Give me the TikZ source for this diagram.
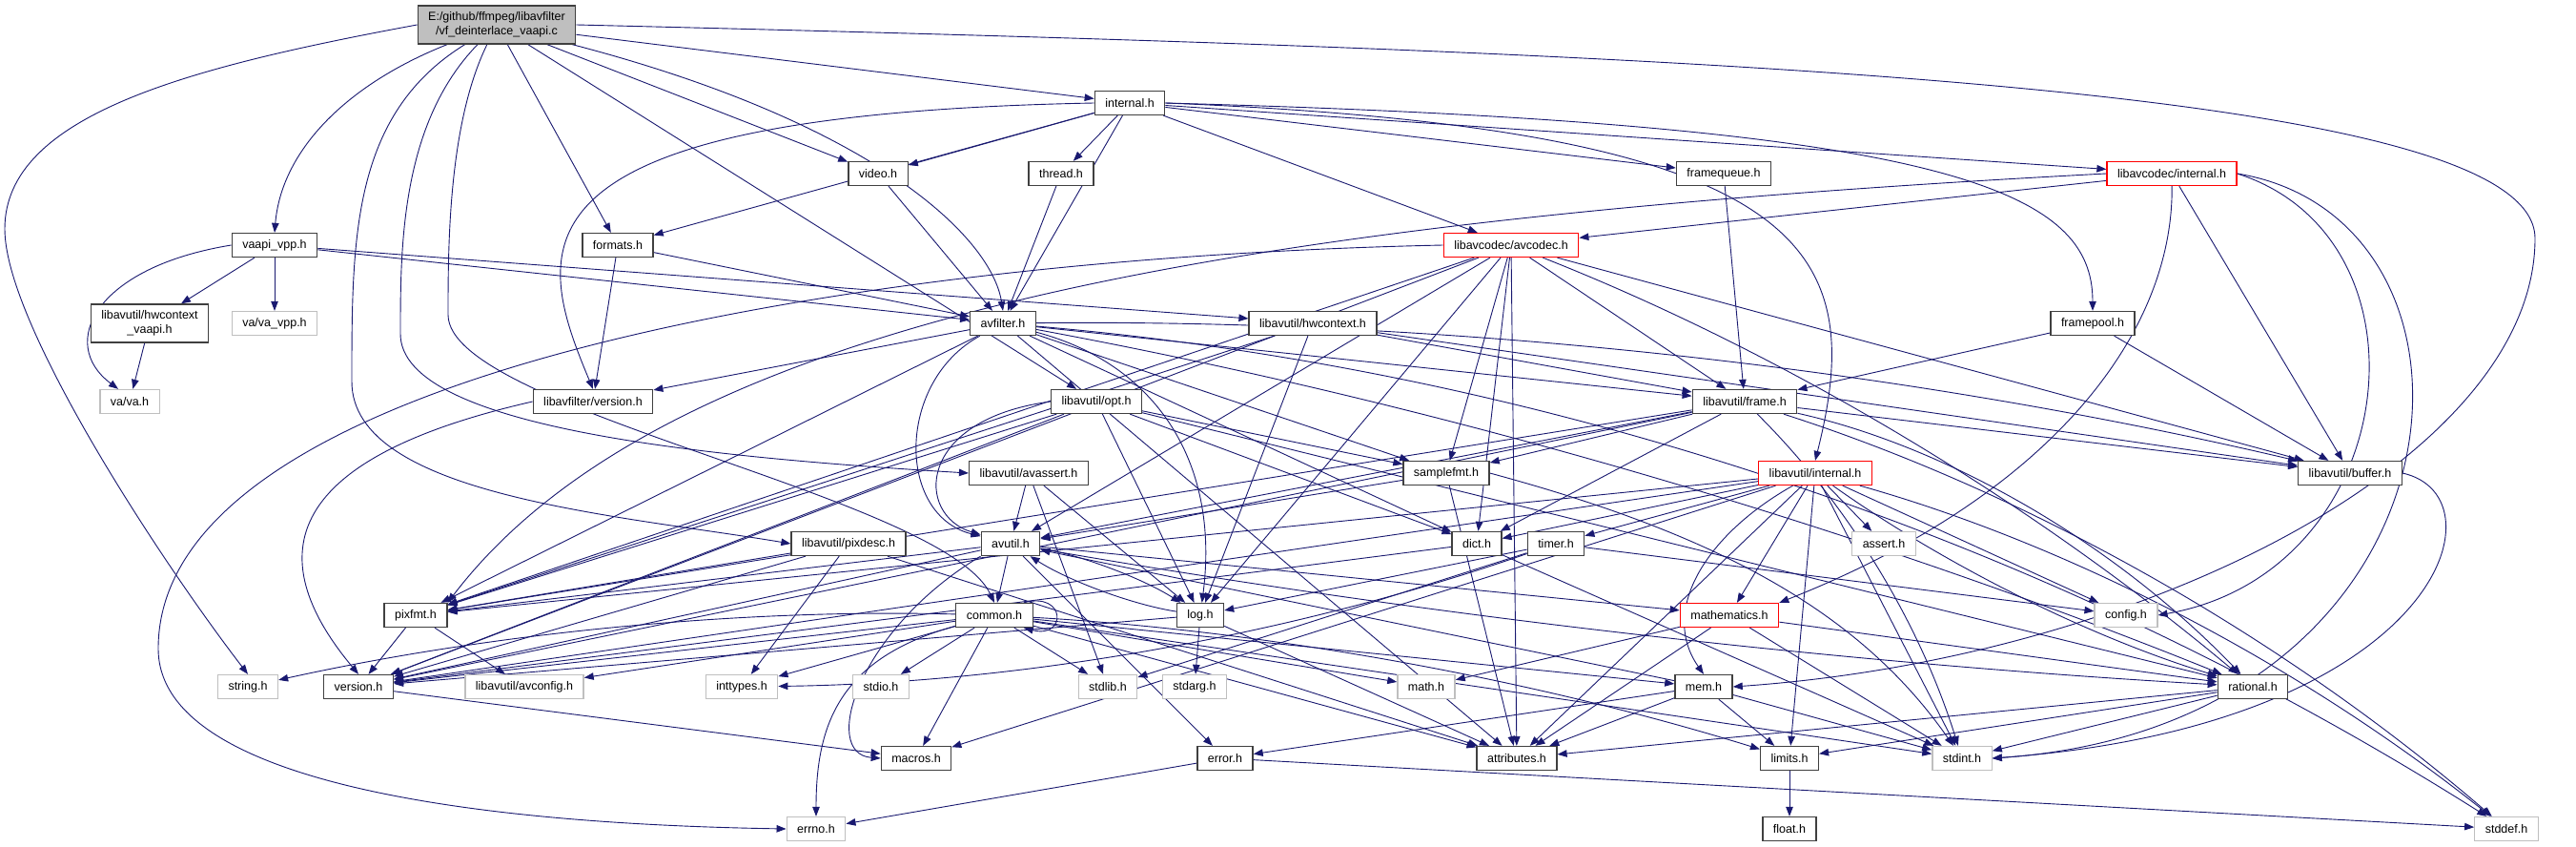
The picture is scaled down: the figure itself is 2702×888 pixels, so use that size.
\documentclass[tikz,border=0pt]{standalone}
\usepackage{fontspec}
\setmainfont{Liberation Sans}
\usetikzlibrary{arrows.meta}
\definecolor{blunotte}{HTML}{191970}
\definecolor{grigiochiaro}{HTML}{BFBFBF}
\definecolor{grigioscuro}{HTML}{404040}
\pgfdeclarelayer{sfondo}
\pgfsetlayers{sfondo,main}

\begin{document}
\begin{tikzpicture}[
  x=1pt, y=1pt,
  font=\fontsize{12.5}{15}\selectfont,
  nodo/.style={draw=grigioscuro, line width=1.3pt, fill=white, inner xsep=11pt, inner ysep=0pt, minimum height=25pt},
  esterno/.style={nodo, draw=grigiochiaro},
  rosso/.style={nodo, draw=red},
  radice/.style={nodo, fill=grigiochiaro, align=center, minimum height=40pt},
  dip/.style={draw=blunotte, line width=0.9pt, -{Triangle[length=10pt,width=7.5pt]}}
]

%--------------------------------------------------------------
% File di partenza
%--------------------------------------------------------------
\node[radice] (main) at (521,-26) {E:/github/ffmpeg/libavfilter\\/vf\_deinterlace\_vaapi.c};

%--------------------------------------------------------------
% Intestazioni, riga per riga dall'alto
%--------------------------------------------------------------
\node[nodo] (internal) at (1185,-108) {internal.h};
\node[nodo] (video) at (921,-182) {video.h};
\node[nodo] (thread) at (1113,-182) {thread.h};
\node[nodo] (framequeue) at (1808,-182) {framequeue.h};
\node[rosso] (lavcinternal) at (2278,-182) {libavcodec/internal.h};
\node[nodo] (vaapivpp) at (288,-257) {vaapi\_vpp.h};
\node[nodo] (formats) at (648,-257) {formats.h};
\node[rosso] (avcodec) at (1585,-257) {libavcodec/avcodec.h};
\node[nodo, align=center, minimum height=40pt] (hwvaapi) at (157,-339) {libavutil/hwcontext\\\_vaapi.h};
\node[esterno] (vavpp) at (288,-339) {va/va\_vpp.h};
\node[nodo] (avfilter) at (1052,-339) {avfilter.h};
\node[nodo] (hwcontext) at (1377,-339) {libavutil/hwcontext.h};
\node[nodo] (framepool) at (2195,-339) {framepool.h};
\node[esterno] (vah) at (136,-421) {va/va.h};
\node[nodo] (lavfiversion) at (622,-421) {libavfilter/version.h};
\node[nodo] (opt) at (1150,-421) {libavutil/opt.h};
\node[nodo] (frame) at (1830,-421) {libavutil/frame.h};
\node[nodo] (avassert) at (1079,-496) {libavutil/avassert.h};
\node[nodo] (samplefmt) at (1517,-496) {samplefmt.h};
\node[rosso] (lavuinternal) at (1904,-496) {libavutil/internal.h};
\node[nodo] (buffer) at (2465,-496) {libavutil/buffer.h};
\node[nodo] (pixdesc) at (890,-570) {libavutil/pixdesc.h};
\node[nodo] (avutil) at (1060,-570) {avutil.h};
\node[nodo] (dict) at (1549,-570) {dict.h};
\node[nodo] (timer) at (1632,-570) {timer.h};
\node[esterno] (asserth) at (1976,-570) {assert.h};
\node[nodo] (pixfmt) at (436,-645) {pixfmt.h};
\node[nodo] (common) at (1043,-645) {common.h};
\node[nodo] (log) at (1259,-645) {log.h};
\node[rosso] (mathematics) at (1814,-645) {mathematics.h};
\node[esterno] (config) at (2230,-645) {config.h};
\node[esterno] (stringh) at (260,-720) {string.h};
\node[nodo] (version) at (376,-720) {version.h};
\node[esterno] (avconfig) at (550,-720) {libavutil/avconfig.h};
\node[esterno] (inttypes) at (778,-720) {inttypes.h};
\node[esterno] (stdio) at (924,-720) {stdio.h};
\node[esterno] (stdlib) at (1162,-720) {stdlib.h};
\node[esterno] (stdarg) at (1253,-720) {stdarg.h};
\node[esterno] (math) at (1496,-720) {math.h};
\node[nodo] (mem) at (1787,-720) {mem.h};
\node[nodo] (rational) at (2363,-720) {rational.h};
\node[nodo] (macros) at (961,-795) {macros.h};
\node[nodo] (error) at (1285,-795) {error.h};
\node[nodo] (attributes) at (1591,-795) {attributes.h};
\node[nodo] (limits) at (1877,-795) {limits.h};
\node[esterno] (stdint) at (2058,-795) {stdint.h};
\node[esterno] (errno) at (856,-869) {errno.h};
\node[nodo] (float) at (1877,-869) {float.h};
\node[esterno] (stddef) at (2629,-869) {stddef.h};

\begin{pgfonlayer}{sfondo}
\fill[white] (0,0) rectangle (2702,-888);

%--------------------------------------------------------------
% vf_deinterlace_vaapi.c
%--------------------------------------------------------------
\draw[dip] (main.west) .. controls (200,-70) and (5,-120) .. (5,-240)
  .. controls (5,-340) and (170,-590) .. (stringh.north);
\draw[dip] (main) .. controls (360,-90) and (295,-160) .. (vaapivpp.north);
\draw[dip] (main) .. controls (369,-120) and (369,-250) .. (369,-400)
  .. controls (369,-520) and (650,-540) .. (pixdesc.west);
\draw[dip] (main) .. controls (420,-130) and (420,-260) .. (420,-350)
  .. controls (420,-450) and (750,-480) .. (avassert.west);
\draw[dip] (main) .. controls (470,-130) and (470,-260) .. (470,-330)
  .. controls (470,-430) and (990,-520) .. (common.north);
\draw[dip] (main) -- (formats);
\draw[dip] (main) -- (video);
\draw[dip] (main) -- (internal);
\draw[dip] (main) .. controls (920,-130) and (1040,-250) .. (avfilter.north);
\draw[dip] (main) -- (opt);
\draw[dip] (main.east) .. controls (1800,-55) and (2659,-90) .. (2659,-250)
  .. controls (2659,-480) and (2250,-690) .. (mem.east);

%--------------------------------------------------------------
% internal.h e intestazioni di libavfilter
%--------------------------------------------------------------
\draw[dip] (internal) -- (video);
\draw[dip] (internal) -- (thread);
\draw[dip] (internal) -- (framequeue);
\draw[dip] (internal) -- (lavcinternal);
\draw[dip] (internal) -- (avcodec);
\draw[dip] (internal) -- (formats);
\draw[dip] (internal) -- (avfilter);
\draw[dip] (internal.west) .. controls (520,-120) and (560,-260) .. (lavfiversion.north);
\draw[dip] (internal.east) .. controls (1900,-135) and (1960,-260) .. (lavuinternal.north);
\draw[dip] (internal.east) .. controls (2050,-130) and (2195,-200) .. (framepool.north);
\draw[dip] (video) -- (avfilter);
\draw[dip] (thread) -- (avfilter);
\draw[dip] (framequeue) -- (frame);
\draw[dip] (framepool) -- (frame);
\draw[dip] (framepool) -- (buffer);
\draw[dip] (formats) -- (avfilter);
\draw[dip] (formats) -- (lavfiversion);
\draw[dip] (lavfiversion.west) .. controls (300,-480) and (270,-580) .. (version.north);

%--------------------------------------------------------------
% vaapi_vpp.h
%--------------------------------------------------------------
\draw[dip] (vaapivpp.west) .. controls (100,-280) and (60,-360) .. ([xshift=-12pt]vah.north);
\draw[dip] (vaapivpp) -- (hwvaapi);
\draw[dip] (vaapivpp) -- (vavpp);
\draw[dip] (vaapivpp) -- (avfilter);
\draw[dip] (vaapivpp) -- (hwcontext);
\draw[dip] (hwvaapi) -- (vah);

%--------------------------------------------------------------
% libavcodec
%--------------------------------------------------------------
\draw[dip] (avcodec.west) .. controls (900,-270) and (166,-390) .. (166,-680)
  .. controls (166,-850) and (650,-866) .. (errno.west);
\draw[dip] (avcodec) -- (pixfmt);
\draw[dip] (avcodec) -- (version);
\draw[dip] (avcodec) -- (avutil);
\draw[dip] (avcodec) -- (samplefmt);
\draw[dip] (avcodec) -- (dict);
\draw[dip] (avcodec) -- (log);
\draw[dip] (avcodec) -- (attributes);
\draw[dip] (avcodec) -- (frame);
\draw[dip] (avcodec) -- (buffer);
\draw[dip] (avcodec) .. controls (1869,-369) and (2129,-524) .. (rational);
\draw[dip] (lavcinternal) -- (avcodec);
\draw[dip] (lavcinternal) -- (buffer);
\draw[dip] (lavcinternal.west) .. controls (1300,-230) and (700,-330) .. (pixfmt.north east);
\draw[dip] (lavcinternal) .. controls (2280,-350) and (2150,-520) .. (mathematics.north east);
\draw[dip] (lavcinternal.east) .. controls (2560,-250) and (2520,-600) .. (config.east);
\draw[dip] (lavcinternal.east) .. controls (2640,-230) and (2600,-760) .. (stdint.east);

%--------------------------------------------------------------
% avfilter.h
%--------------------------------------------------------------
\draw[dip] (avfilter) -- (pixfmt);
\draw[dip] (avfilter) .. controls (940,-400) and (940,-540) .. (avutil);
\draw[dip] (avfilter) -- (lavfiversion);
\draw[dip] (avfilter) -- (samplefmt);
\draw[dip] (avfilter) -- (dict);
\draw[dip] (avfilter) -- (frame);
\draw[dip] (avfilter) .. controls (1529,-334) and (2000,-387) .. (buffer);
\draw[dip] (avfilter) .. controls (1211,-381) and (1280,-483) .. (log);
\draw[dip] (avfilter) -- (attributes);
\draw[dip] (avfilter) .. controls (1502,-422) and (1939,-549) .. (rational);
\draw[dip] (avfilter) .. controls (1621,-388) and (2146,-564) .. (stddef);

%--------------------------------------------------------------
% libavutil: hwcontext, opt, frame, avassert, samplefmt
%--------------------------------------------------------------
\draw[dip] (hwcontext) -- (buffer);
\draw[dip] (hwcontext) -- (frame);
\draw[dip] (hwcontext) -- (log);
\draw[dip] (hwcontext) -- (pixfmt);
\draw[dip] (opt) -- (pixfmt);
\draw[dip] (opt.west) .. controls (960,-440) and (960,-540) .. (avutil);
\draw[dip] (opt) -- (samplefmt);
\draw[dip] (opt) -- (dict);
\draw[dip] (opt) -- (log);
\draw[dip] (opt) -- (rational);
\draw[dip] (opt) -- (version);
\draw[dip] (frame) -- (avutil);
\draw[dip] (frame) -- (pixfmt);
\draw[dip] (frame) -- (version);
\draw[dip] (frame) -- (samplefmt);
\draw[dip] (frame) -- (dict);
\draw[dip] (frame) -- (buffer);
\draw[dip] (frame) .. controls (2038,-467) and (2215,-566) .. (rational);
\draw[dip] (frame) .. controls (1937,-527) and (2013,-651) .. (stdint);
\draw[dip] (frame) .. controls (2126,-516) and (2393,-666) .. (stddef);
\draw[dip] (avassert) -- (avutil);
\draw[dip] (avassert) -- (log);
\draw[dip] (avassert) -- (stdlib);
\draw[dip] (samplefmt) -- (avutil);
\draw[dip] (samplefmt) -- (attributes);
\draw[dip] (samplefmt.east) .. controls (1800,-560) and (1950,-640) .. (stdint);

%--------------------------------------------------------------
% libavutil/internal.h
%--------------------------------------------------------------
\draw[dip] (lavuinternal) -- (pixfmt);
\draw[dip] (lavuinternal) -- (version);
\draw[dip] (lavuinternal) -- (dict);
\draw[dip] (lavuinternal) -- (timer);
\draw[dip] (lavuinternal) -- (macros);
\draw[dip] (lavuinternal) -- (attributes);
\draw[dip] (lavuinternal) -- (mathematics);
\draw[dip] (lavuinternal) .. controls (1790,-560) and (1740,-640) .. (mem.north);
\draw[dip] (lavuinternal) -- (limits);
\draw[dip] (lavuinternal) -- (asserth);
\draw[dip] (lavuinternal) -- (config);
\draw[dip] (lavuinternal) -- (stdint);
\draw[dip] (lavuinternal) .. controls (2045,-596) and (2198,-670) .. (rational);
\draw[dip] (lavuinternal) .. controls (2171,-571) and (2412,-696) .. (stddef);

%--------------------------------------------------------------
% avutil.h, dict.h, timer.h, pixdesc.h, pixfmt.h
%--------------------------------------------------------------
\draw[dip] (avutil) -- (common);
\draw[dip] (avutil) -- (pixfmt);
\draw[dip] (avutil) -- (version);
\draw[dip] (avutil.south west) .. controls (900,-660) and (860,-790) .. (macros.west);
\draw[dip] (avutil) -- (error);
\draw[dip] (avutil) .. controls (1131,-581) and (1198,-606) .. (log);
\draw[dip] (avutil) -- (mathematics);
\draw[dip] (avutil) .. controls (1491,-645) and (1926,-695) .. (rational);
\draw[dip] (dict) -- (version);
\draw[dip] (dict) -- (stdint);
\draw[dip] (timer) -- (log);
\draw[dip] (timer) -- (stdlib);
\draw[dip] (timer) .. controls (1355,-666) and (1071,-716) .. (inttypes);
\draw[dip] (timer) -- (config);
\draw[dip] (pixdesc) -- (pixfmt);
\draw[dip] (pixdesc) -- (version);
\draw[dip] (pixdesc) -- (inttypes);
\draw[dip] (pixdesc) -- (attributes);
\draw[dip] (pixfmt) -- (version);
\draw[dip] (pixfmt) -- (avconfig);

%--------------------------------------------------------------
% common.h (con il proprio anello)
%--------------------------------------------------------------
\draw[dip] (common) .. controls (779,-638) and (518,-663) .. (stringh);
\draw[dip] (common) -- (version);
\draw[dip] (common) -- (avconfig);
\draw[dip] (common) -- (inttypes);
\draw[dip] (common) -- (stdio);
\draw[dip] (common) -- (stdlib);
\draw[dip] (common) -- (macros);
\draw[dip] (common) .. controls (880,-690) and (856,-760) .. (errno);
\draw[dip] (common) -- (math);
\draw[dip] (common) -- (mem);
\draw[dip] (common) -- (attributes);
\draw[dip] (common) .. controls (1327,-661) and (1605,-711) .. (limits);
\draw[dip] (common) -- (stdint);
\draw[dip] ([xshift=-10pt]common.north east) .. controls +(45,12) and +(45,-12) .. ([xshift=-10pt]common.south east);

%--------------------------------------------------------------
% log.h, version.h, mathematics.h, mem.h, rational.h, error.h
%--------------------------------------------------------------
\draw[dip] (log) .. controls (1188,-634) and (1121,-609) .. (avutil);
\draw[dip] (log) -- (stdarg);
\draw[dip] (log) -- (attributes);
\draw[dip] (log) -- (version);
\draw[dip] (version) -- (macros);
\draw[dip] (mathematics) -- (math);
\draw[dip] (mathematics) -- (attributes);
\draw[dip] (mathematics) -- (stdint);
\draw[dip] (mathematics) -- (rational);
\draw[dip] (mem) -- (avutil);
\draw[dip] (mem) -- (error);
\draw[dip] (mem) -- (attributes);
\draw[dip] (mem) -- (limits);
\draw[dip] (mem) -- (stdint);
\draw[dip] (rational) -- (attributes);
\draw[dip] (rational) -- (limits);
\draw[dip] (rational) -- (stdint);
\draw[dip] (error) -- (errno);
\draw[dip] (error) -- (stddef);
\draw[dip] (limits) -- (float);
\draw[dip] (buffer.east) .. controls (2630,-520) and (2560,-760) .. (stdint.east);
\end{pgfonlayer}

\end{tikzpicture}
\end{document}
